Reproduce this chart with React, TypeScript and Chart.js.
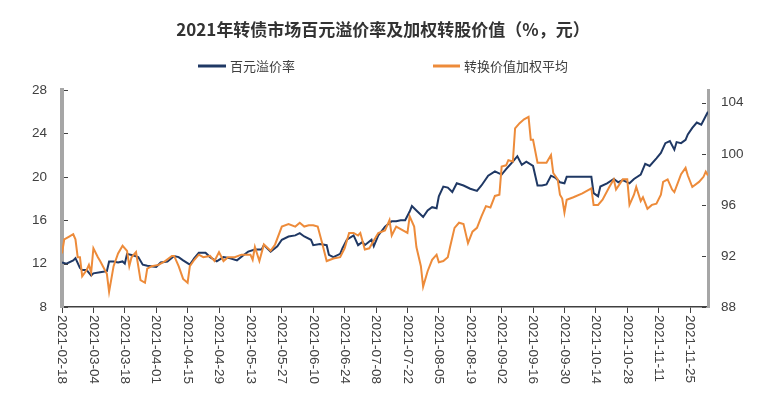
import React, { useEffect, useRef } from 'react';
import { Chart, registerables } from 'chart.js';

Chart.register(...registerables);

const titleText = '2021年转债市场百元溢价率及加权转股价值（%，元）';
const seriesNames = ['百元溢价率', '转换价值加权平均'];

const xTickLabels = [
  '2021-02-18', '2021-03-04', '2021-03-18', '2021-04-01', '2021-04-15', '2021-04-29',
  '2021-05-13', '2021-05-27', '2021-06-10', '2021-06-24', '2021-07-08', '2021-07-22',
  '2021-08-05', '2021-08-19', '2021-09-02', '2021-09-16', '2021-09-30', '2021-10-14',
  '2021-10-28', '2021-11-11', '2021-11-25',
];
const leftTicks = [8, 12, 16, 20, 24, 28];
const rightTicks = [88, 92, 96, 100, 104];

// x = days since 2021-02-18
const premiumDays = [
  0, 2, 5, 6, 8, 9, 11, 13, 14, 17, 20, 21, 23, 25, 27, 28, 29, 31, 34, 36, 38, 42, 44, 47, 50,
  52, 54, 57, 59, 61, 64, 66, 69, 72, 75, 78, 81, 83, 86, 89, 90, 93, 96, 98, 101, 104, 106, 108,
  111, 112, 115, 118, 119, 121, 124, 125, 127, 130, 132, 134, 135, 138, 139, 141, 144, 147, 149,
  151, 153, 155, 156, 158, 161, 163, 165, 167, 168, 170, 172, 174, 176, 179, 182, 185, 187, 190,
  193, 196, 198, 201, 203, 205, 207, 210, 212, 214, 216, 218, 220, 222, 224, 225, 231, 236, 237,
  239, 240, 243, 246, 248, 250, 253, 255, 258, 260, 262, 265, 267, 269, 271, 273, 274, 276, 278,
  279, 281, 283, 285, 287, 288,
];
const premiumValues = [
  12.1, 12.0, 12.3, 12.5, 11.6, 11.4, 11.4, 10.9, 11.1, 11.2, 11.3, 12.2, 12.2, 12.1, 12.2, 12.0,
  12.9, 12.8, 12.6, 11.9, 11.8, 11.7, 12.1, 12.2, 12.7, 12.6, 12.3, 11.9, 12.5, 13.0, 13.0, 12.6,
  12.2, 12.6, 12.5, 12.3, 12.8, 13.1, 13.3, 13.3, 13.7, 13.1, 13.6, 14.2, 14.5, 14.6, 14.8, 14.5,
  14.2, 13.7, 13.8, 13.7, 12.8, 12.6, 12.9, 13.4, 14.2, 14.6, 13.7, 14.0, 13.7, 14.2, 13.6, 14.6,
  15.4, 15.9, 15.9, 16.0, 16.0, 16.8, 17.3, 16.9, 16.3, 16.9, 17.2, 17.1, 18.2, 19.1, 19.0, 18.6,
  19.4, 19.2, 18.9, 18.7, 19.2, 20.1, 20.5, 20.2, 20.7, 21.4, 21.9, 21.1, 21.4, 21.0, 19.2, 19.2,
  19.3, 20.1, 19.9, 19.5, 19.4, 20.0, 20.0, 20.0, 18.5, 18.2, 19.1, 19.4, 19.8, 19.5, 19.7, 19.4,
  19.8, 20.2, 21.2, 21.0, 21.7, 22.2, 23.1, 23.3, 22.5, 23.2, 23.1, 23.4, 23.9, 24.5, 25.0, 24.8,
  25.6, 26.0,
];

const convDays = [
  0, 1, 3, 5, 6, 7, 8, 9, 11, 12, 13, 14, 16, 17, 20, 21, 23, 25, 27, 29, 30, 31, 33, 35, 37, 38,
  40, 43, 46, 49, 50, 52, 54, 56, 57, 59, 61, 63, 66, 68, 70, 72, 74, 77, 80, 84, 85, 86, 88, 90,
  93, 95, 98, 101, 104, 106, 108, 110, 112, 114, 116, 118, 121, 124, 126, 128, 130, 132, 133, 135,
  137, 140, 141, 144, 146, 147, 149, 152, 154, 155, 157, 158, 160, 161, 163, 165, 167, 168, 170,
  172, 173, 175, 177, 179, 181, 183, 185, 187, 189, 191, 193, 195, 196, 198, 199, 201, 202, 204,
  206, 208, 209, 210, 212, 214, 216, 218, 219, 221, 222, 223, 224, 225, 228, 232, 236, 237, 239,
  241, 244, 246, 247, 250, 252, 253, 255, 256, 258, 259, 261, 263, 265, 267, 268, 270, 272, 273,
  276, 278, 279, 281, 284, 286, 287, 288,
];
const convValues = [
  92.2, 93.3, 93.5, 93.7, 93.3, 91.9, 91.9, 90.4, 90.9, 91.3, 90.7, 92.6, 91.9, 91.6, 90.6, 89.2,
  91.2, 92.2, 92.8, 92.4, 91.2, 91.9, 92.3, 90.1, 89.9, 91.0, 91.2, 91.3, 91.6, 92.0, 92.0, 91.2,
  90.2, 89.9, 91.2, 91.7, 92.1, 91.9, 92.0, 91.6, 92.3, 91.6, 91.9, 91.9, 92.1, 92.1, 91.7, 92.7,
  91.6, 92.9, 92.4, 92.9, 94.3, 94.5, 94.3, 94.6, 94.3, 94.4, 94.4, 94.3, 93.0, 91.6, 91.8, 91.9,
  92.6, 93.8, 93.8, 93.6, 93.8, 92.5, 92.6, 93.5, 93.8, 94.0, 94.8, 93.6, 94.3, 94.0, 93.8, 95.1,
  94.3, 92.7, 91.2, 89.6, 90.8, 91.7, 92.1, 91.5, 91.6, 91.9, 92.7, 94.2, 94.6, 94.5, 93.0, 93.9,
  94.2, 95.1, 95.9, 95.8, 96.7, 96.8, 99.0, 99.1, 99.5, 99.4, 102.0, 102.4, 102.7, 102.9, 101.1,
  101.1, 99.3, 99.3, 99.3, 99.9, 98.5, 98.0, 96.8, 96.5, 95.4, 96.4, 96.6, 96.9, 97.3, 96.0, 96.0,
  96.4, 97.4, 98.0, 97.2, 98.0, 98.0, 96.0, 96.8, 97.4, 96.3, 96.6, 95.7, 96.0, 96.1, 96.8, 97.8,
  98.0, 97.2, 97.0, 98.4, 98.9, 98.3, 97.4, 97.8, 98.2, 98.6, 98.3,
];

const seriesColors = ['#1F3864', '#ED8B3A'];

const dayOf = (s: string) => {
  const [y, m, d] = s.split('-').map(Number);
  return Math.round((Date.UTC(y, m - 1, d) - Date.UTC(2021, 1, 18)) / 86400000);
};
const xTickDays = xTickLabels.map(dayOf);

const decorPlugin = {
  id: 'decor',
  afterDraw(chart: any) {
    const ctx = chart.ctx as CanvasRenderingContext2D;
    ctx.save();
    // title
    ctx.fillStyle = '#333333';
    ctx.font = 'bold 17px "Noto Sans CJK SC", sans-serif';
    ctx.textAlign = 'center';
    ctx.textBaseline = 'middle';
    ctx.fillText(titleText, 375, 22);
    // legend
    const legendY = 58;
    const items = [
      { x0: 190, x1: 218 },
      { x0: 425, x1: 452 },
    ];
    ctx.font = '13px "Noto Sans CJK SC", sans-serif';
    ctx.textAlign = 'left';
    items.forEach((it, i) => {
      ctx.strokeStyle = seriesColors[i];
      ctx.lineWidth = 3;
      ctx.beginPath();
      ctx.moveTo(it.x0, legendY);
      ctx.lineTo(it.x1, legendY);
      ctx.stroke();
      ctx.fillStyle = '#404040';
      ctx.fillText(seriesNames[i], it.x1 + 4, legendY);
    });
    // inward tick marks on the value axes
    const ys = chart.scales.y;
    const y1s = chart.scales.y1;
    const area = chart.chartArea;
    ctx.strokeStyle = '#404040';
    ctx.lineWidth = 1;
    leftTicks.forEach((v) => {
      const py = Math.round(ys.getPixelForValue(v)) + 0.5;
      ctx.beginPath();
      ctx.moveTo(area.left + 2, py);
      ctx.lineTo(area.left + 6, py);
      ctx.stroke();
    });
    rightTicks.forEach((v) => {
      const py = Math.round(y1s.getPixelForValue(v)) + 0.5;
      ctx.beginPath();
      ctx.moveTo(area.right - 2, py);
      ctx.lineTo(area.right - 6, py);
      ctx.stroke();
    });
    // rotated x labels (top-to-bottom)
    const xs = chart.scales.x;
    ctx.font = '13.5px "Liberation Sans", Arial, sans-serif';
    ctx.fillStyle = '#404040';
    ctx.textAlign = 'left';
    ctx.textBaseline = 'middle';
    xTickLabels.forEach((lab, i) => {
      const px = xs.getPixelForValue(xTickDays[i]);
      ctx.save();
      ctx.translate(px, xs.top + 8);
      ctx.rotate(Math.PI / 2);
      ctx.fillText(lab, 0, 0);
      ctx.restore();
    });
    ctx.restore();
  },
};

export default function App() {
  const ref = useRef<HTMLCanvasElement>(null);
  useEffect(() => {
    const chart = new Chart(ref.current as HTMLCanvasElement, {
      type: 'line',
      data: {
        datasets: [
          {
            label: seriesNames[0],
            data: premiumDays.map((d, i) => ({ x: d, y: premiumValues[i] })),
            borderColor: seriesColors[0],
            backgroundColor: seriesColors[0],
            borderWidth: 2,
            pointRadius: 0,
            tension: 0,
            yAxisID: 'y',
            order: 1,
          },
          {
            label: seriesNames[1],
            data: convDays.map((d, i) => ({ x: d, y: convValues[i] })),
            borderColor: seriesColors[1],
            backgroundColor: seriesColors[1],
            borderWidth: 2,
            pointRadius: 0,
            tension: 0,
            yAxisID: 'y1',
            order: 0,
          },
        ],
      },
      options: {
        responsive: false,
        animation: false,
        events: [],
        layout: { padding: { top: 82, left: 0, right: 0, bottom: 0 } },
        plugins: { legend: { display: false }, title: { display: false }, tooltip: { enabled: false } },
        scales: {
          x: {
            type: 'linear',
            min: 0,
            max: 288,
            afterBuildTicks: (s: any) => {
              s.ticks = xTickDays.map((v) => ({ value: v }));
            },
            afterFit: (s: any) => {
              s.height = 89;
            },
            ticks: { display: false },
            grid: { display: true, drawOnChartArea: false, drawTicks: true, tickLength: 6, color: '#404040', lineWidth: 1 },
            border: { display: true, color: '#404040', width: 1.5 },
          },
          y: {
            type: 'linear',
            position: 'left',
            min: 8,
            max: 28,
            afterBuildTicks: (s: any) => {
              s.ticks = leftTicks.map((v) => ({ value: v }));
            },
            afterFit: (s: any) => {
              s.width = 54;
            },
            ticks: { font: { family: '"Liberation Sans", Arial, sans-serif', size: 13.5 }, color: '#404040', padding: 15 },
            grid: { display: false, drawTicks: false, tickLength: 0 },
            border: { display: true, color: '#A6A6A6', width: 4 },
          },
          y1: {
            type: 'linear',
            position: 'right',
            min: 88,
            max: 105,
            afterBuildTicks: (s: any) => {
              s.ticks = rightTicks.map((v) => ({ value: v }));
            },
            afterFit: (s: any) => {
              s.width = 51;
            },
            ticks: { font: { family: '"Liberation Sans", Arial, sans-serif', size: 13.5 }, color: '#404040', padding: 13 },
            grid: { display: false, drawTicks: false, tickLength: 0 },
            border: { display: true, color: '#A6A6A6', width: 3 },
          },
        },
      },
      plugins: [decorPlugin],
    } as any);
    return () => chart.destroy();
  }, []);
  return (
    <div style={{ width: 751, height: 388 }}>
      <canvas ref={ref} width={751} height={388} style={{ display: 'block' }} />
    </div>
  );
}
